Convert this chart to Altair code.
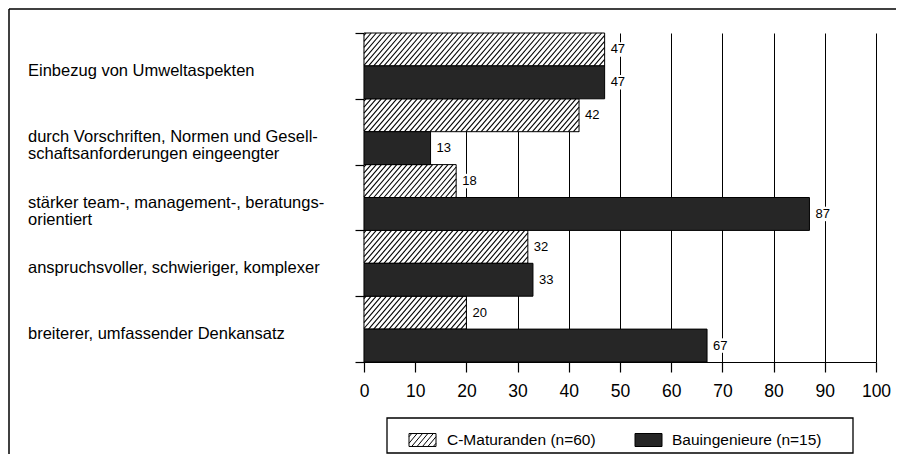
import altair as alt
import pandas as pd
import numpy as np

# ---------------- data ----------------
categories = [
    "Einbezug von Umweltaspekten",
    "durch Vorschriften, Normen und Gesell-\nschaftsanforderungen eingeengter",
    "stärker team-, management-, beratungs-\norientiert",
    "anspruchsvoller, schwieriger, komplexer",
    "breiterer, umfassender Denkansatz",
]
c_maturanden = [47, 42, 18, 32, 20]
bauingenieure = [47, 13, 87, 33, 67]
series_names = ["C-Maturanden (n=60)", "Bauingenieure (n=15)"]
x_ticks = list(range(0, 101, 10))

FONT = "Liberation Sans"
DARK = "#262626"

# ---------------- tables ----------------
rows = []
for i, cat in enumerate(categories):
    for s, vals in enumerate([c_maturanden, bauingenieure]):
        rows.append({
            "cat": cat, "series": series_names[s], "s": s, "zero": 0,
            "v": vals[i], "y0": 2 * i + s, "y1": 2 * i + s + 1,
            "yc": 2 * i + s + 0.5,
            "bx0": vals[i] + 1.0, "bx1": vals[i] + 4.2,
            "by0": 2 * i + s + 0.28, "by1": 2 * i + s + 0.72,
        })
bars = pd.DataFrame(rows)
hatched = bars[bars.s == 0]
solid = bars[bars.s == 1]

cat_df = pd.DataFrame({"cat": categories, "yc": [2 * i + 1 for i in range(len(categories))]})

# hatch stripes for the hatched bars (style derived from bar values)
RUN, STEP = 5.5, 1.0
hrows = []
for i, v in enumerate(c_maturanden):
    bottom = 2 * i + 1
    for a in np.arange(-RUN + 0.4, v, STEP):
        t0 = max(0.0, -a / RUN)
        t1 = min(1.0, (v - a) / RUN)
        if t1 <= t0:
            continue
        hrows.append({
            "xa": a + t0 * RUN, "ya": bottom - t0,
            "xb": a + t1 * RUN, "yb": bottom - t1,
        })
hatch = pd.DataFrame(hrows)


def hatch_symbol(w=1.0, h=0.48, run=0.8, step=0.4):
    parts = [f"M{-w},{-h}H{w}V{h}H{-w}Z"]
    for a in np.arange(-w - run + step / 2, w, step):
        t0 = max(0.0, (-w - a) / run)
        t1 = min(1.0, (w - a) / run)
        if t1 <= t0:
            continue
        x0, y0 = a + t0 * run, h - t0 * 2 * h
        x1, y1 = a + t1 * run, h - t1 * 2 * h
        parts.append(f"M{x0:.3f},{y0:.3f}L{x1:.3f},{y1:.3f}")
    return " ".join(parts)


one = pd.DataFrame({"k": [0]})

# ---------------- scales & axes ----------------
xs = alt.Scale(domain=[0, 100], nice=False, zero=True)
ys = alt.Scale(domain=[0, 10], reverse=True, nice=False, zero=False)

x_axis = alt.Axis(values=x_ticks, title=None, grid=True, gridColor="black",
                  gridWidth=1, gridOpacity=1, tickSize=10, tickColor="black",
                  tickWidth=1.2, domainColor="black", domainWidth=1.2,
                  labelFontSize=17.5, labelFont=FONT, labelColor="black",
                  labelPadding=10, labelFlush=False, labelOverlap=False, zindex=0)
y_axis = alt.Axis(values=[0, 2, 4, 6, 8, 10], labels=False, title=None,
                  grid=False, tickSize=9, tickColor="black", tickWidth=1.2,
                  domainColor="black", domainWidth=1.2, zindex=0)


def X(f):
    return alt.X(f, type="quantitative", scale=xs, axis=x_axis)


def Y(f):
    return alt.Y(f, type="quantitative", scale=ys, axis=y_axis)


# ---------------- layers ----------------
bar_h = alt.Chart(hatched).mark_rect(fill="white", stroke="black", strokeWidth=1).encode(
    x=X("zero"), x2="v:Q", y=Y("y0"), y2="y1:Q",
)

bar_s = alt.Chart(solid).mark_rect(fill=DARK, stroke="black", strokeWidth=1).encode(
    x=X("zero"), x2="v:Q", y=Y("y0"), y2="y1:Q",
)

stripes = alt.Chart(hatch).mark_rule(color="black", strokeWidth=1.1).encode(
    x=X("xa"), x2="xb:Q", y=Y("ya"), y2="yb:Q",
)

label_bg = alt.Chart(bars).mark_rect(fill="white").encode(
    x=X("bx0"), x2="bx1:Q", y=Y("by0"), y2="by1:Q",
)

value_labels = alt.Chart(bars).mark_text(
    align="left", baseline="middle", dx=6, fontSize=13, font=FONT, color="black"
).encode(
    x=X("v"), y=Y("yc"), text="v:Q",
)

cat_labels = alt.Chart(cat_df).mark_text(
    align="left", baseline="middle", dy=5, fontSize=16.5, font=FONT,
    color="black", lineBreak="\n", lineHeight=17
).encode(
    x=alt.value(-336), y=Y("yc"), text="cat:N",
)

frame_top = alt.Chart(one).mark_rule(color="black", strokeWidth=1.5).encode(
    x=alt.value(-355), x2=alt.value(540), y=alt.value(-24)
)
frame_left = alt.Chart(one).mark_rule(color="black", strokeWidth=1.5).encode(
    x=alt.value(-355), y=alt.value(-24), y2=alt.value(440)
)

legend_box = alt.Chart(one).mark_rect(fill="white", stroke="black", strokeWidth=1.3).encode(
    x=alt.value(23), x2=alt.value(489), y=alt.value(385), y2=alt.value(420)
)

leg_hatch = alt.Chart(one).mark_point(
    shape=hatch_symbol(), size=729, filled=True, fill="white", stroke="black",
    strokeWidth=1, opacity=1
).encode(x=alt.value(58.5), y=alt.value(407))

leg_solid = alt.Chart(one).mark_rect(fill=DARK, stroke="black", strokeWidth=1).encode(
    x=alt.value(271), x2=alt.value(298), y=alt.value(400.5), y2=alt.value(413.5)
)

leg_text1 = alt.Chart(one).mark_text(
    align="left", baseline="middle", fontSize=15.5, font=FONT, color="black"
).encode(x=alt.value(83), y=alt.value(407), text=alt.value(series_names[0]))

leg_text2 = alt.Chart(one).mark_text(
    align="left", baseline="middle", fontSize=15.5, font=FONT, color="black"
).encode(x=alt.value(308), y=alt.value(407), text=alt.value(series_names[1]))

chart = alt.layer(
    bar_h, bar_s, stripes, label_bg, value_labels, cat_labels,
    frame_top, frame_left, legend_box, leg_hatch, leg_solid, leg_text1, leg_text2,
).properties(
    width=512, height=329,
    autosize=alt.AutoSizeParams(type="none"),
    padding={"left": 356, "top": 25, "right": 20, "bottom": 92},
    background="white",
).configure_view(stroke=None)

chart.save("out.html", embed_options={"renderer": "svg", "actions": False})
